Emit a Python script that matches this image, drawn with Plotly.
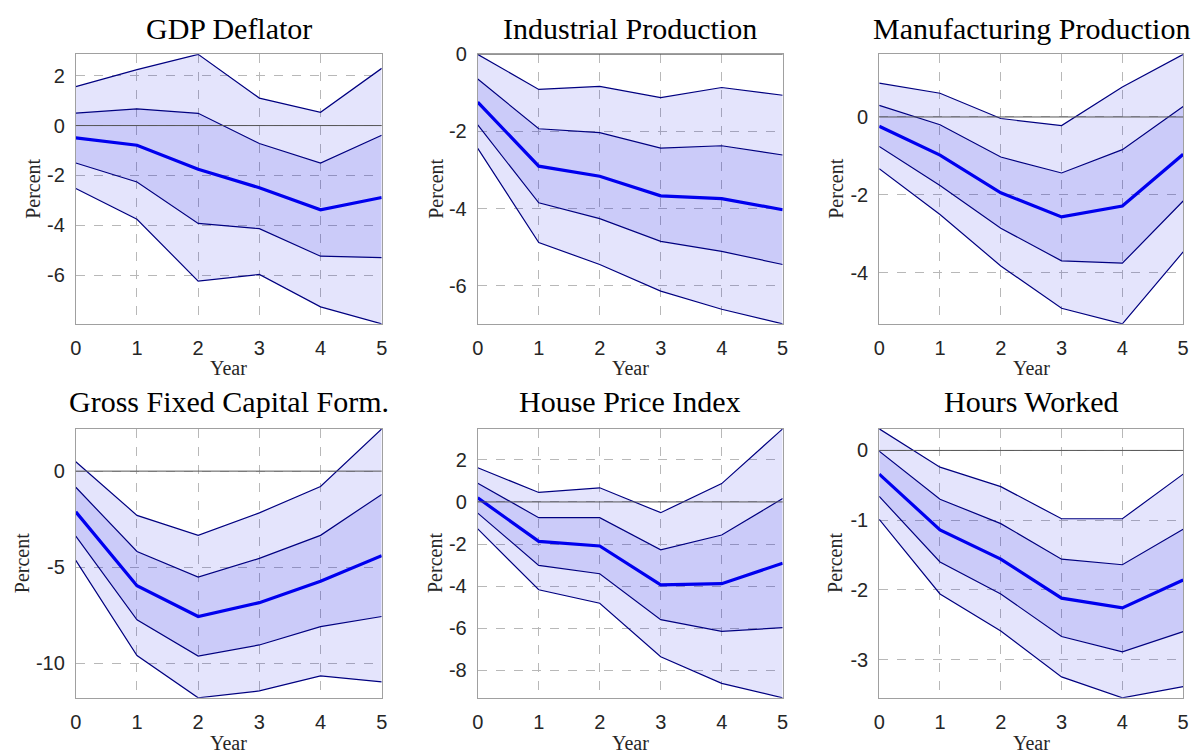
import plotly.graph_objects as go

years = [0, 1, 2, 3, 4, 5]
titles = ["GDP Deflator", "Industrial Production", "Manufacturing Production",
          "Gross Fixed Capital Form.", "House Price Index", "Hours Worked"]

# GDP Deflator
gdp_med = [-0.49, -0.79, -1.75, -2.49, -3.37, -2.88]
gdp_lo68 = [-1.50, -2.26, -3.92, -4.13, -5.23, -5.29]
gdp_hi68 = [0.50, 0.67, 0.49, -0.72, -1.50, -0.39]
gdp_lo90 = [-2.52, -3.75, -6.23, -5.96, -7.26, -7.94]
gdp_hi90 = [1.56, 2.24, 2.85, 1.10, 0.53, 2.29]

# Industrial Production
ip_med = [-1.24, -2.90, -3.16, -3.67, -3.74, -4.03]
ip_lo68 = [-1.83, -3.85, -4.26, -4.85, -5.11, -5.45]
ip_hi68 = [-0.64, -1.93, -2.03, -2.43, -2.37, -2.61]
ip_lo90 = [-2.44, -4.88, -5.45, -6.14, -6.61, -6.99]
ip_hi90 = [0.0, -0.91, -0.83, -1.12, -0.86, -1.06]

# Manufacturing Production
mp_med = [-0.24, -0.98, -1.95, -2.57, -2.29, -0.96]
mp_lo68 = [-0.76, -1.76, -2.86, -3.70, -3.76, -2.16]
mp_hi68 = [0.30, -0.20, -1.03, -1.44, -0.84, 0.27]
mp_lo90 = [-1.33, -2.51, -3.83, -4.92, -5.32, -3.47]
mp_hi90 = [0.87, 0.61, -0.04, -0.22, 0.77, 1.61]

# Gross Fixed Capital Formation
gf_med = [-2.12, -5.96, -7.56, -6.84, -5.73, -4.40]
gf_lo68 = [-3.38, -7.73, -9.62, -9.04, -8.09, -7.56]
gf_hi68 = [-0.84, -4.18, -5.51, -4.54, -3.34, -1.21]
gf_lo90 = [-4.64, -9.59, -11.79, -11.43, -10.65, -10.96]
gf_hi90 = [0.49, -2.30, -3.34, -2.17, -0.80, 2.20]

# House Price Index
hp_med = [0.19, -1.87, -2.09, -3.94, -3.88, -2.91]
hp_lo68 = [-0.53, -3.01, -3.41, -5.59, -6.14, -5.97]
hp_hi68 = [0.89, -0.75, -0.75, -2.27, -1.57, 0.16]
hp_lo90 = [-1.28, -4.17, -4.81, -7.35, -8.61, -9.30]
hp_hi90 = [1.62, 0.45, 0.67, -0.51, 0.87, 3.47]

# Hours Worked
hw_med = [-0.34, -1.14, -1.56, -2.12, -2.26, -1.86]
hw_lo68 = [-0.66, -1.60, -2.06, -2.67, -2.89, -2.60]
hw_hi68 = [-0.01, -0.70, -1.05, -1.56, -1.64, -1.13]
hw_lo90 = [-0.99, -2.06, -2.59, -3.25, -3.55, -3.39]
hw_hi90 = [0.31, -0.24, -0.52, -0.98, -0.98, -0.34]

# y tick values / labels per panel
gdp_ticks = [2, 0, -2, -4, -6]
ip_ticks = [0, -2, -4, -6]
mp_ticks = [0, -2, -4]
gf_ticks = [0, -5, -10]
hp_ticks = [2, 0, -2, -4, -6, -8]
hw_ticks = [0, -1, -2, -3]
x_ticks = [0, 1, 2, 3, 4, 5]

panels = [
    (gdp_med, gdp_lo68, gdp_hi68, gdp_lo90, gdp_hi90, gdp_ticks),
    (ip_med, ip_lo68, ip_hi68, ip_lo90, ip_hi90, ip_ticks),
    (mp_med, mp_lo68, mp_hi68, mp_lo90, mp_hi90, mp_ticks),
    (gf_med, gf_lo68, gf_hi68, gf_lo90, gf_hi90, gf_ticks),
    (hp_med, hp_lo68, hp_hi68, hp_lo90, hp_hi90, hp_ticks),
    (hw_med, hw_lo68, hw_hi68, hw_lo90, hw_hi90, hw_ticks),
]

W, H = 1204, 755
# pixel boxes of plot areas (left, right) / (top, bottom)
col_x = [(70.5, 379.5), (476.5, 784.5), (882, 1189)]
row_y = [(44, 317.5), (424, 697)]
ylabel_x = [27, 434, 838, 17, 434, 838]
title_base = [31, 409]
year_y = [362, 743]

BAND = "rgba(0,0,230,0.105)"
EDGE = "#000080"
MED = "#0000ee"
TICKFONT = dict(family="Liberation Sans, Arial, sans-serif", size=20, color="#262626")
SERIF = "Liberation Serif, Times New Roman, serif"

fig = go.Figure()
annotations = []
shapes = []
for i, (med, lo68, hi68, lo90, hi90, ticks) in enumerate(panels):
    r, c = divmod(i, 3)
    xs = "x" if i == 0 else f"x{i+1}"
    ys = "y" if i == 0 else f"y{i+1}"
    common = dict(xaxis=xs, yaxis=ys, mode="lines", showlegend=False, hoverinfo="skip")
    fig.add_trace(go.Scatter(x=years, y=lo90, line=dict(color=EDGE, width=1.2), **common))
    fig.add_trace(go.Scatter(x=years, y=hi90, line=dict(color=EDGE, width=1.2),
                             fill="tonexty", fillcolor=BAND, **common))
    fig.add_trace(go.Scatter(x=years, y=lo68, line=dict(color=EDGE, width=1.2), **common))
    fig.add_trace(go.Scatter(x=years, y=hi68, line=dict(color=EDGE, width=1.2),
                             fill="tonexty", fillcolor=BAND, **common))
    fig.add_trace(go.Scatter(x=years, y=med, line=dict(color=MED, width=3.2), **common))

    x0, x1 = col_x[c]
    yt, yb = row_y[r]
    xdom = [x0 / W, x1 / W]
    ydom = [1 - yb / H, 1 - yt / H]
    ymin = min(lo90)
    ymax = max(hi90)
    axkey = "xaxis" if i == 0 else f"xaxis{i+1}"
    aykey = "yaxis" if i == 0 else f"yaxis{i+1}"
    fig.layout[axkey] = dict(
        domain=xdom, anchor=ys, range=[0, 5], tickvals=x_ticks,
        ticktext=[str(t) for t in x_ticks], showgrid=True, gridcolor="#b8b8b8",
        griddash="dash", gridwidth=1, zeroline=False, showline=True, mirror=True,
        linecolor="#a0a0a0", linewidth=1, ticks="", tickfont=TICKFONT,
        ticklabelstandoff=6,
    )
    fig.layout[aykey] = dict(
        domain=ydom, anchor=xs, range=[ymin, ymax], tickvals=ticks,
        ticktext=[str(t) for t in ticks], showgrid=True, gridcolor="#b8b8b8",
        griddash="dash", gridwidth=1, zeroline=False, showline=True, mirror=True,
        linecolor="#a0a0a0", linewidth=1, ticks="", tickfont=TICKFONT,
        ticklabelstandoff=6,
    )
    shapes.append(dict(type="line", xref=f"{xs} domain", yref=ys, x0=0, x1=1, y0=0, y1=0,
                       line=dict(color="#555555", width=1), layer="above"))
    cx = (x0 + x1) / 2 / W
    annotations.append(dict(text=titles[i], x=cx, y=1 - (title_base[r] + 6) / H,
                            xref="paper", yref="paper", xanchor="center", yanchor="bottom",
                            showarrow=False, font=dict(family=SERIF, size=30, color="black")))
    annotations.append(dict(text="Percent", x=ylabel_x[i] / W, y=1 - (yt + yb) / 2 / H,
                            xref="paper", yref="paper", xanchor="center", yanchor="middle",
                            textangle=-90, showarrow=False,
                            font=dict(family=SERIF, size=20, color="#262626")))
    annotations.append(dict(text="Year", x=cx, y=1 - year_y[r] / H,
                            xref="paper", yref="paper", xanchor="center", yanchor="middle",
                            showarrow=False, font=dict(family=SERIF, size=20, color="#262626")))

fig.update_layout(width=W, height=H, margin=dict(l=0, r=0, t=0, b=0),
                  paper_bgcolor="white", plot_bgcolor="white",
                  annotations=annotations, shapes=shapes, showlegend=False)
fig.write_html("out.html", config={"displayModeBar": False},
               post_script="document.body.style.margin='0px';document.body.style.overflow='hidden';")
